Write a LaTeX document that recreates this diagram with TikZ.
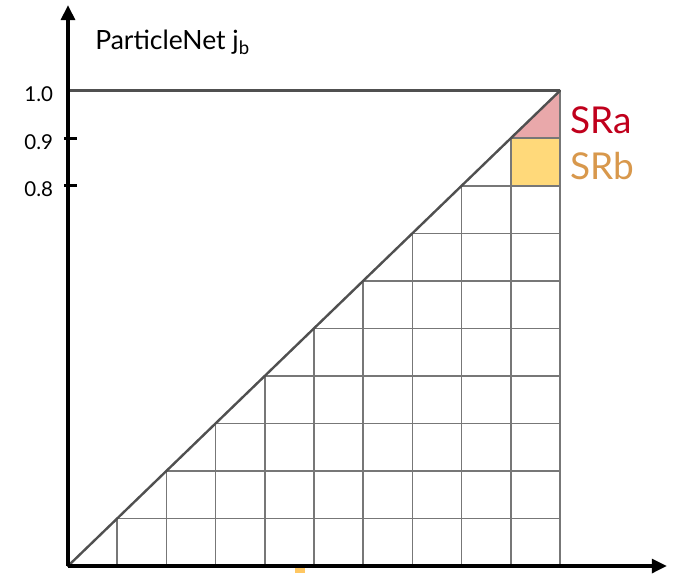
\documentclass[tikz,border=0pt]{standalone}
\usepackage{fontspec}
\setmainfont{Lato}
\usepackage{tikz}
\usetikzlibrary{arrows.meta}
\definecolor{pnink}{HTML}{505050}
\definecolor{pngrid}{HTML}{777777}
\definecolor{pnred}{HTML}{C0001C}
\definecolor{pnpink}{HTML}{E9A8AA}
\definecolor{pnorange}{HTML}{D8984C}
\definecolor{pnyellow}{HTML}{FFD97A}

\begin{document}
\begin{tikzpicture}[
  x=49.2pt, y=47.53pt,
  axis/.style={draw=black, line width=3.2pt, -{Triangle[length=15pt,width=14pt]}},
  tickmark/.style={draw=black, line width=3.2pt},
  gridline/.style={draw=pngrid, line width=1.5pt},
  frame/.style={draw=pnink, line width=2.4pt},
  ticklabel/.style={anchor=base east, inner sep=0pt, font=\fontsize{20.5}{24}\selectfont, yshift=-11pt},
  srlabel/.style={anchor=base west, inner sep=0pt, font=\fontsize{37}{40}\selectfont},
  ]
  \useasboundingbox (-1.382,-0.168) rectangle (12.337,11.908);
  \coordinate (O) at (0,0);
  \coordinate (ytip) at (0,11.8);
  \coordinate (xtip) at (12.17,0);
  \coordinate (corner) at (10,10);
  % signal regions
  \fill[pnpink] (9,9) -- (10,9) -- (corner) -- cycle;
  \fill[pnyellow] (9,8) rectangle (10,9);
  % grid under the diagonal
  \foreach \k in {1,...,10}
    \draw[gridline] (\k,0) -- (\k,\k);
  \foreach \k in {1,...,9}
    \draw[gridline] (\k,\k) -- (10,\k);
  \draw[frame] (0,10) -- (corner);
  \draw[frame, line cap=round] (O) -- (corner);
  \fill[pnyellow!80!orange] (4.614,-0.147) rectangle (4.817,0);
  % axes
  \draw[axis] (O) -- (ytip);
  \draw[axis] (O) -- (xtip);
  \foreach \t in {8,9}
    \draw[tickmark] (-0.08,\t) -- (0.18,\t);
  \node[ticklabel] (t10) at (-0.3,10) {1.0};
  \node[ticklabel] (t09) at (-0.3,9) {0.9};
  \node[ticklabel] (t08) at (-0.3,8) {0.8};
  \node[anchor=base west, inner sep=0pt, font=\fontsize{26.5}{30}\selectfont]
    (ylab) at (0.55,10.86) {ParticleNet j\textsubscript{b}};
  \node[srlabel, text=pnred] (sra) at (10.2,9.1) {SRa};
  \node[srlabel, text=pnorange] (srb) at (10.2,8.14) {SRb};
\end{tikzpicture}
\end{document}
